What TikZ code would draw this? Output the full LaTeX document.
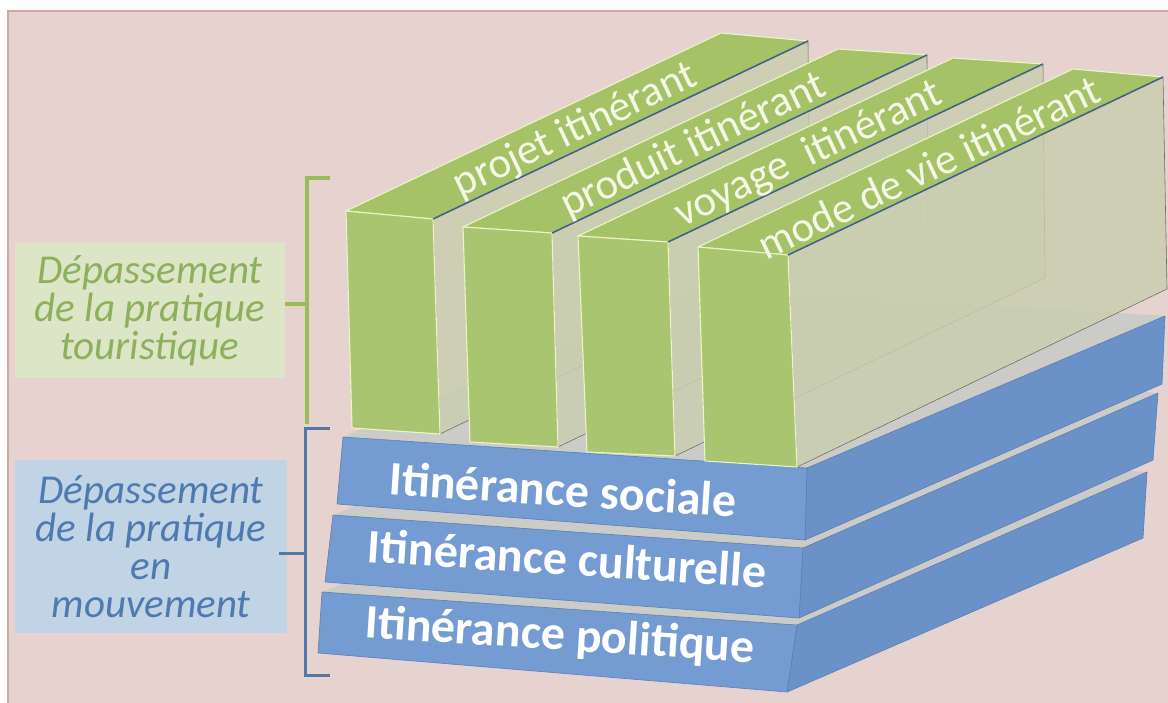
\documentclass[tikz,border=0pt]{standalone}
\usepackage{fontspec}
\setmainfont{Carlito}
\usetikzlibrary{calc}
\definecolor{bgpink}{HTML}{E6D2CF}
\definecolor{bgborder}{HTML}{D3A7A5}
\definecolor{lblgreenbg}{HTML}{DCE5C6}
\definecolor{lblgreentx}{HTML}{8DB05C}
\definecolor{lblbluebg}{HTML}{C0D4E6}
\definecolor{lblbluetx}{HTML}{4F7AB0}
\definecolor{brgreen}{HTML}{9BBB59}
\definecolor{brblue}{HTML}{5479A6}
\definecolor{slabfront}{HTML}{759CD2}
\definecolor{slabside}{HTML}{6B91C9}
\definecolor{slabedge}{HTML}{5A7FB5}
\definecolor{slabtop}{HTML}{CBCBC8}
\definecolor{blkfront}{HTML}{AAC56F}
\definecolor{blktop}{HTML}{A5C267}
\definecolor{blkside}{HTML}{C9CEB0}
\definecolor{blkedge}{HTML}{EEF3C6}
\definecolor{ridge}{HTML}{41618A}
\definecolor{toptext}{HTML}{F4F6E6}
\begin{document}
\begin{tikzpicture}[x=1pt,y=-1pt,
  slabfacef/.style={fill=slabfront, draw=slabedge, line width=0.6pt, line join=round},
  slabfaces/.style={fill=slabside, draw=slabedge, line width=0.6pt, line join=round},
  slabtopface/.style={fill=slabtop},
  blockfront/.style={fill=blkfront, draw=blkedge, line width=1.1pt, line join=round},
  blocktop/.style={fill=blktop, draw=blkedge, line width=1.1pt, line join=round},
  blockside/.style={fill=blkside, fill opacity=0.82, draw=blkside!55!black, line width=0.6pt},
  ridgeline/.style={draw=ridge, line width=1.6pt},
  toplabel/.style={text=toptext, font=\fontsize{43}{43}\selectfont, rotate=25.4, inner sep=0pt},
  slablabel/.style={text=white, font=\fontsize{48}{48}\selectfont\bfseries, rotate=-3.7, inner sep=0pt, anchor=base},
  sidelabel/.style={font=\fontsize{41}{38}\selectfont\itshape, align=center, inner sep=0pt},
  bracket/.style={line width=3.5pt}
]
\useasboundingbox (0,0) rectangle (1168,702);
\fill[white] (0,0) rectangle (1168,702);
\draw[fill=bgpink, draw=bgborder, line width=2pt] (8,11) rectangle (1180,712);

% side labels
\node[sidelabel, fill=lblgreenbg, text=lblgreentx, minimum width=270pt, minimum height=135pt] (lblA) at (150,310.5) {Dépassement\\de la pratique\\touristique};
\node[sidelabel, fill=lblbluebg, text=lblbluetx, minimum width=272pt, minimum height=173pt] (lblB) at (151,546.5) {Dépassement\\de la pratique\\en\\mouvement};

% brackets
\coordinate (gA) at (330,178); \coordinate (gB) at (307,178);
\coordinate (gC) at (307,424); \coordinate (gM) at (307,304);
\draw[bracket, brgreen] (gA) -- (gB) -- (gC);
\draw[bracket, brgreen] (gM) -- (lblA.east |- gM);
\coordinate (bA) at (330,428); \coordinate (bB) at (305,428);
\coordinate (bC) at (305,675); \coordinate (bD) at (330,675);
\coordinate (bM) at (305,553);
\draw[bracket, brblue, line width=3pt] (bA) -- (bB) -- (bC) -- (bD);
\draw[bracket, brblue, line width=3pt] (bM) -- ($(lblB.east |- bM)+(-8,0)$);

% slabs
\foreach \n/\ftl/\fc/\str/\sbr/\fcb/\fbl/\txt/\tpos in {
  3/{322,592}/{797,625}/{1147,472}/{1143,538}/{787,692}/{318,653}/{Itinérance politique}/{559,650},
  2/{333,515}/{803,548}/{1158,393}/{1153,460}/{799,618}/{325,582}/{Itinérance culturelle}/{566,575},
  1/{343,437}/{807,468}/{1165,316}/{1162,384}/{805,540}/{337,504}/{Itinérance sociale}/{562,506}}
{
  \coordinate (s\n-ftl) at (\ftl);
  \coordinate (s\n-fc) at (\fc);
  \coordinate (s\n-str) at (\str);
  \coordinate (s\n-sbr) at (\sbr);
  \coordinate (s\n-fcb) at (\fcb);
  \coordinate (s\n-fbl) at (\fbl);
  \fill[slabtopface] (s\n-ftl) -- (s\n-fc) -- (s\n-str) -- ($(s\n-ftl)+(356,-150)$) -- cycle;
  \filldraw[slabfaces] (s\n-fc) -- (s\n-str) -- (s\n-sbr) -- (s\n-fcb) -- cycle;
  \filldraw[slabfacef] (s\n-ftl) -- (s\n-fc) -- (s\n-fcb) -- (s\n-fbl) -- cycle;
  \node[slablabel] (sl\n) at (\tpos) {\txt};
}

% green blocks
\foreach \n/\tl/\tr/\br/\bl/\txt in {
  1/{346,211}/{433,219}/{440,434}/{352,428}/{projet itinérant},
  2/{463,227}/{552,233}/{558,447}/{470,442}/{produit itinérant},
  3/{578,236}/{668,242}/{675,456}/{587,452}/{voyage\ \ itinérant},
  4/{698,247}/{788,255}/{797,467}/{705,461}/{mode de vie itinérant}}
{
  \coordinate (b\n-tl) at (\tl);
  \coordinate (b\n-tr) at (\tr);
  \coordinate (b\n-br) at (\br);
  \coordinate (b\n-bl) at (\bl);
  \coordinate (b\n-btl) at ($(b\n-tl)+(375,-178)$);
  \coordinate (b\n-btr) at ($(b\n-tr)+(375,-178)$);
  \coordinate (b\n-bbr) at ($(b\n-br)+(370,-178)$);
  \filldraw[blockside] (b\n-tr) -- (b\n-btr) -- (b\n-bbr) -- (b\n-br) -- cycle;
  \filldraw[blocktop] (b\n-tl) -- (b\n-btl) -- (b\n-btr) -- (b\n-tr) -- cycle;
  \filldraw[blockfront] (b\n-tl) -- (b\n-tr) -- (b\n-br) -- (b\n-bl) -- cycle;
  \draw[ridgeline] (b\n-tr) -- (b\n-btr);
  \node[toplabel] (t\n) at ($(b\n-tl)!0.5!(b\n-tr)+0.49*(375,-178)+(2,3)$) {\txt};
}
\end{tikzpicture}
\end{document}
